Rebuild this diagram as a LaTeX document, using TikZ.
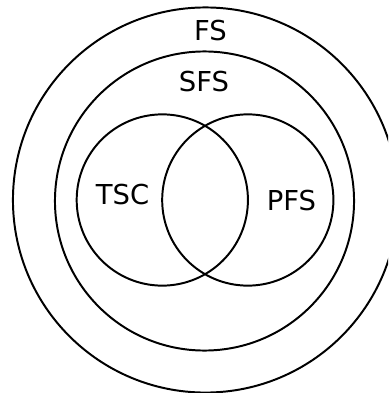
\documentclass[tikz,border=0pt]{standalone}
\usepackage{fontspec}
\setmainfont{DejaVu Sans}
\usepackage{tikz}

\begin{document}
\begin{tikzpicture}[x=0.025cm,y=-0.025cm,line width=1.4pt,
  set/.style={circle,draw,inner sep=0pt},
  lbl/.style={font=\fontsize{19.5}{22}\selectfont}]
\clip (0,0) rectangle (388,393);
\useasboundingbox (0,0) rectangle (388,393);
  \node[set,minimum size=9.625cm]  (FS)  at (205.5,200)  {};
  \node[set,minimum size=7.475cm]  (SFS) at (204.5,201)  {};
  \node[set,minimum size=4.28cm]   (TSC) at (162.3,200)  {};
  \node[set,minimum size=4.28cm]   (PFS) at (247.8,200)  {};

  \node[lbl] (FSl)  at (210.5,31)  {FS};
  \node[lbl] (SFSl) at (204,82)    {SFS};
  \node[lbl] (TSCl) at (122.5,195) {TSC};
  \node[lbl] (PFSl) at (291.5,201) {PFS};
\end{tikzpicture}
\end{document}
